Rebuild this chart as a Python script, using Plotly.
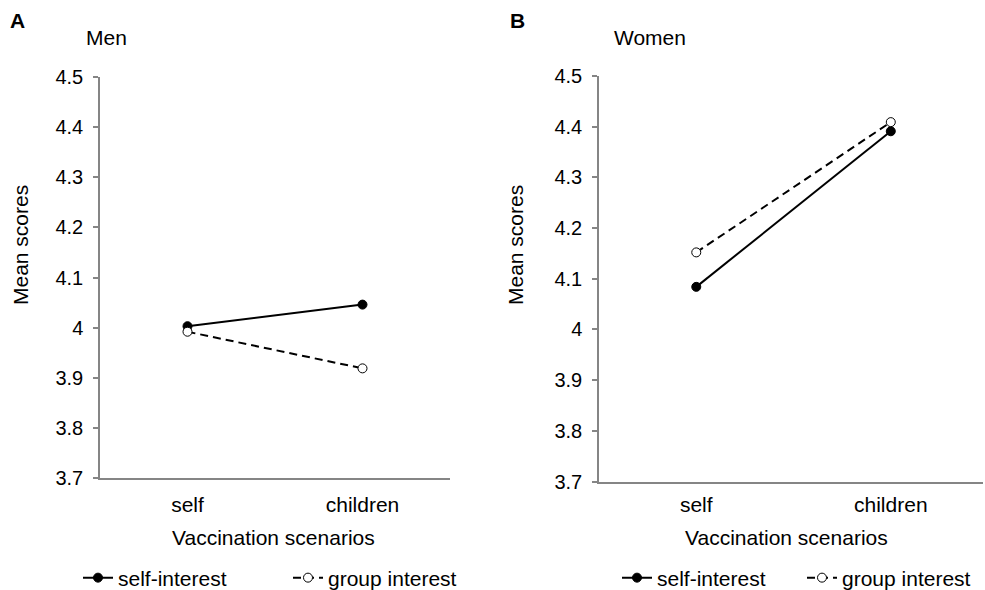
import plotly.graph_objects as go

W, H = 985, 590

scenarios = ["self", "children"]
men_self_interest = [4.003, 4.046]
men_group_interest = [3.992, 3.919]
women_self_interest = [4.084, 4.391]
women_group_interest = [4.152, 4.409]
y_ticks = [3.7, 3.8, 3.9, 4.0, 4.1, 4.2, 4.3, 4.4, 4.5]
y_tick_text = ["3.7", "3.8", "3.9", "4", "4.1", "4.2", "4.3", "4.4", "4.5"]

FONT = "Arial, Liberation Sans, sans-serif"
FS = 21
TFS = 20
AX = "#858585"

def px(x):
    return x / W

def py(y):
    return 1 - y / H

xpos = list(range(len(scenarios)))

fig = go.Figure()

def add_pair(si, gi, xa, ya, leg):
    fig.add_trace(go.Scatter(
        x=xpos, y=si, xaxis=xa, yaxis=ya, mode="lines+markers",
        name="self-interest", legend=leg,
        line=dict(color="black", width=2),
        marker=dict(symbol="circle", size=9, color="black",
                    line=dict(color="black", width=1)),
    ))
    fig.add_trace(go.Scatter(
        x=xpos, y=gi, xaxis=xa, yaxis=ya, mode="lines+markers",
        name="group interest", legend=leg,
        line=dict(color="black", width=2, dash="8px,5px"),
        marker=dict(symbol="circle", size=9, color="white",
                    line=dict(color="black", width=1)),
    ))

add_pair(men_self_interest, men_group_interest, "x", "y", "legend")
add_pair(women_self_interest, women_group_interest, "x2", "y2", "legend2")

xcommon = dict(
    tickvals=xpos, ticktext=scenarios, showgrid=False, zeroline=False,
    showline=True, linecolor=AX, linewidth=1.5, ticks="",
    tickfont=dict(family=FONT, size=FS, color="black"),
    fixedrange=True,
)
ycommon = dict(
    range=[3.7, 4.5], tickvals=y_ticks, ticktext=y_tick_text,
    showgrid=False, zeroline=False, showline=True, linecolor=AX,
    linewidth=1.5, ticks="outside", ticklen=5, tickcolor=AX, tickwidth=1.5,
    tickfont=dict(family=FONT, size=TFS, color="black"),
    ticklabelstandoff=6,
)

fig.update_layout(
    width=W, height=H,
    margin=dict(l=0, r=0, t=0, b=0, autoexpand=False),
    paper_bgcolor="white", plot_bgcolor="white",
    font=dict(family=FONT, size=FS, color="black"),
    xaxis=dict(domain=[px(100), px(450)], range=[-0.5, 1.5], anchor="y",
               ticklabelstandoff=7, **xcommon),
    yaxis=dict(domain=[py(478.3), py(76.7)], anchor="x", **ycommon),
    xaxis2=dict(domain=[px(599), px(983)], range=[-0.5, 1.474], anchor="y2",
                ticklabelstandoff=4, **xcommon),
    yaxis2=dict(domain=[py(481.5), py(76)], anchor="x2", **ycommon),
    legend=dict(orientation="h", x=px(78), y=py(578), xanchor="left", yanchor="middle",
                font=dict(family=FONT, size=FS, color="black"),
                bgcolor="rgba(0,0,0,0)", entrywidth=165, itemwidth=30),
    legend2=dict(orientation="h", x=px(617), y=py(578), xanchor="left", yanchor="middle",
                 font=dict(family=FONT, size=FS, color="black"),
                 bgcolor="rgba(0,0,0,0)", entrywidth=140, itemwidth=30),
)

annots = [
    dict(text="<b>A</b>", x=px(17), y=py(20)),
    dict(text="<b>B</b>", x=px(517), y=py(20)),
    dict(text="Men", x=px(106), y=py(38)),
    dict(text="Women", x=px(650), y=py(38)),
    dict(text="Vaccination scenarios", x=px(273), y=py(537)),
    dict(text="Vaccination scenarios", x=px(786), y=py(537)),
    dict(text="Mean scores", x=px(20), y=py(245), textangle=-90),
    dict(text="Mean scores", x=px(515), y=py(245), textangle=-90),
]
for a in annots:
    fig.add_annotation(xref="paper", yref="paper", showarrow=False,
                       xanchor="center", yanchor="middle",
                       font=dict(family=FONT, size=FS, color="black"), **a)

fig.write_html("out.html", config={"displayModeBar": False},
               post_script="document.body.style.margin='0';document.body.style.overflow='hidden';")
